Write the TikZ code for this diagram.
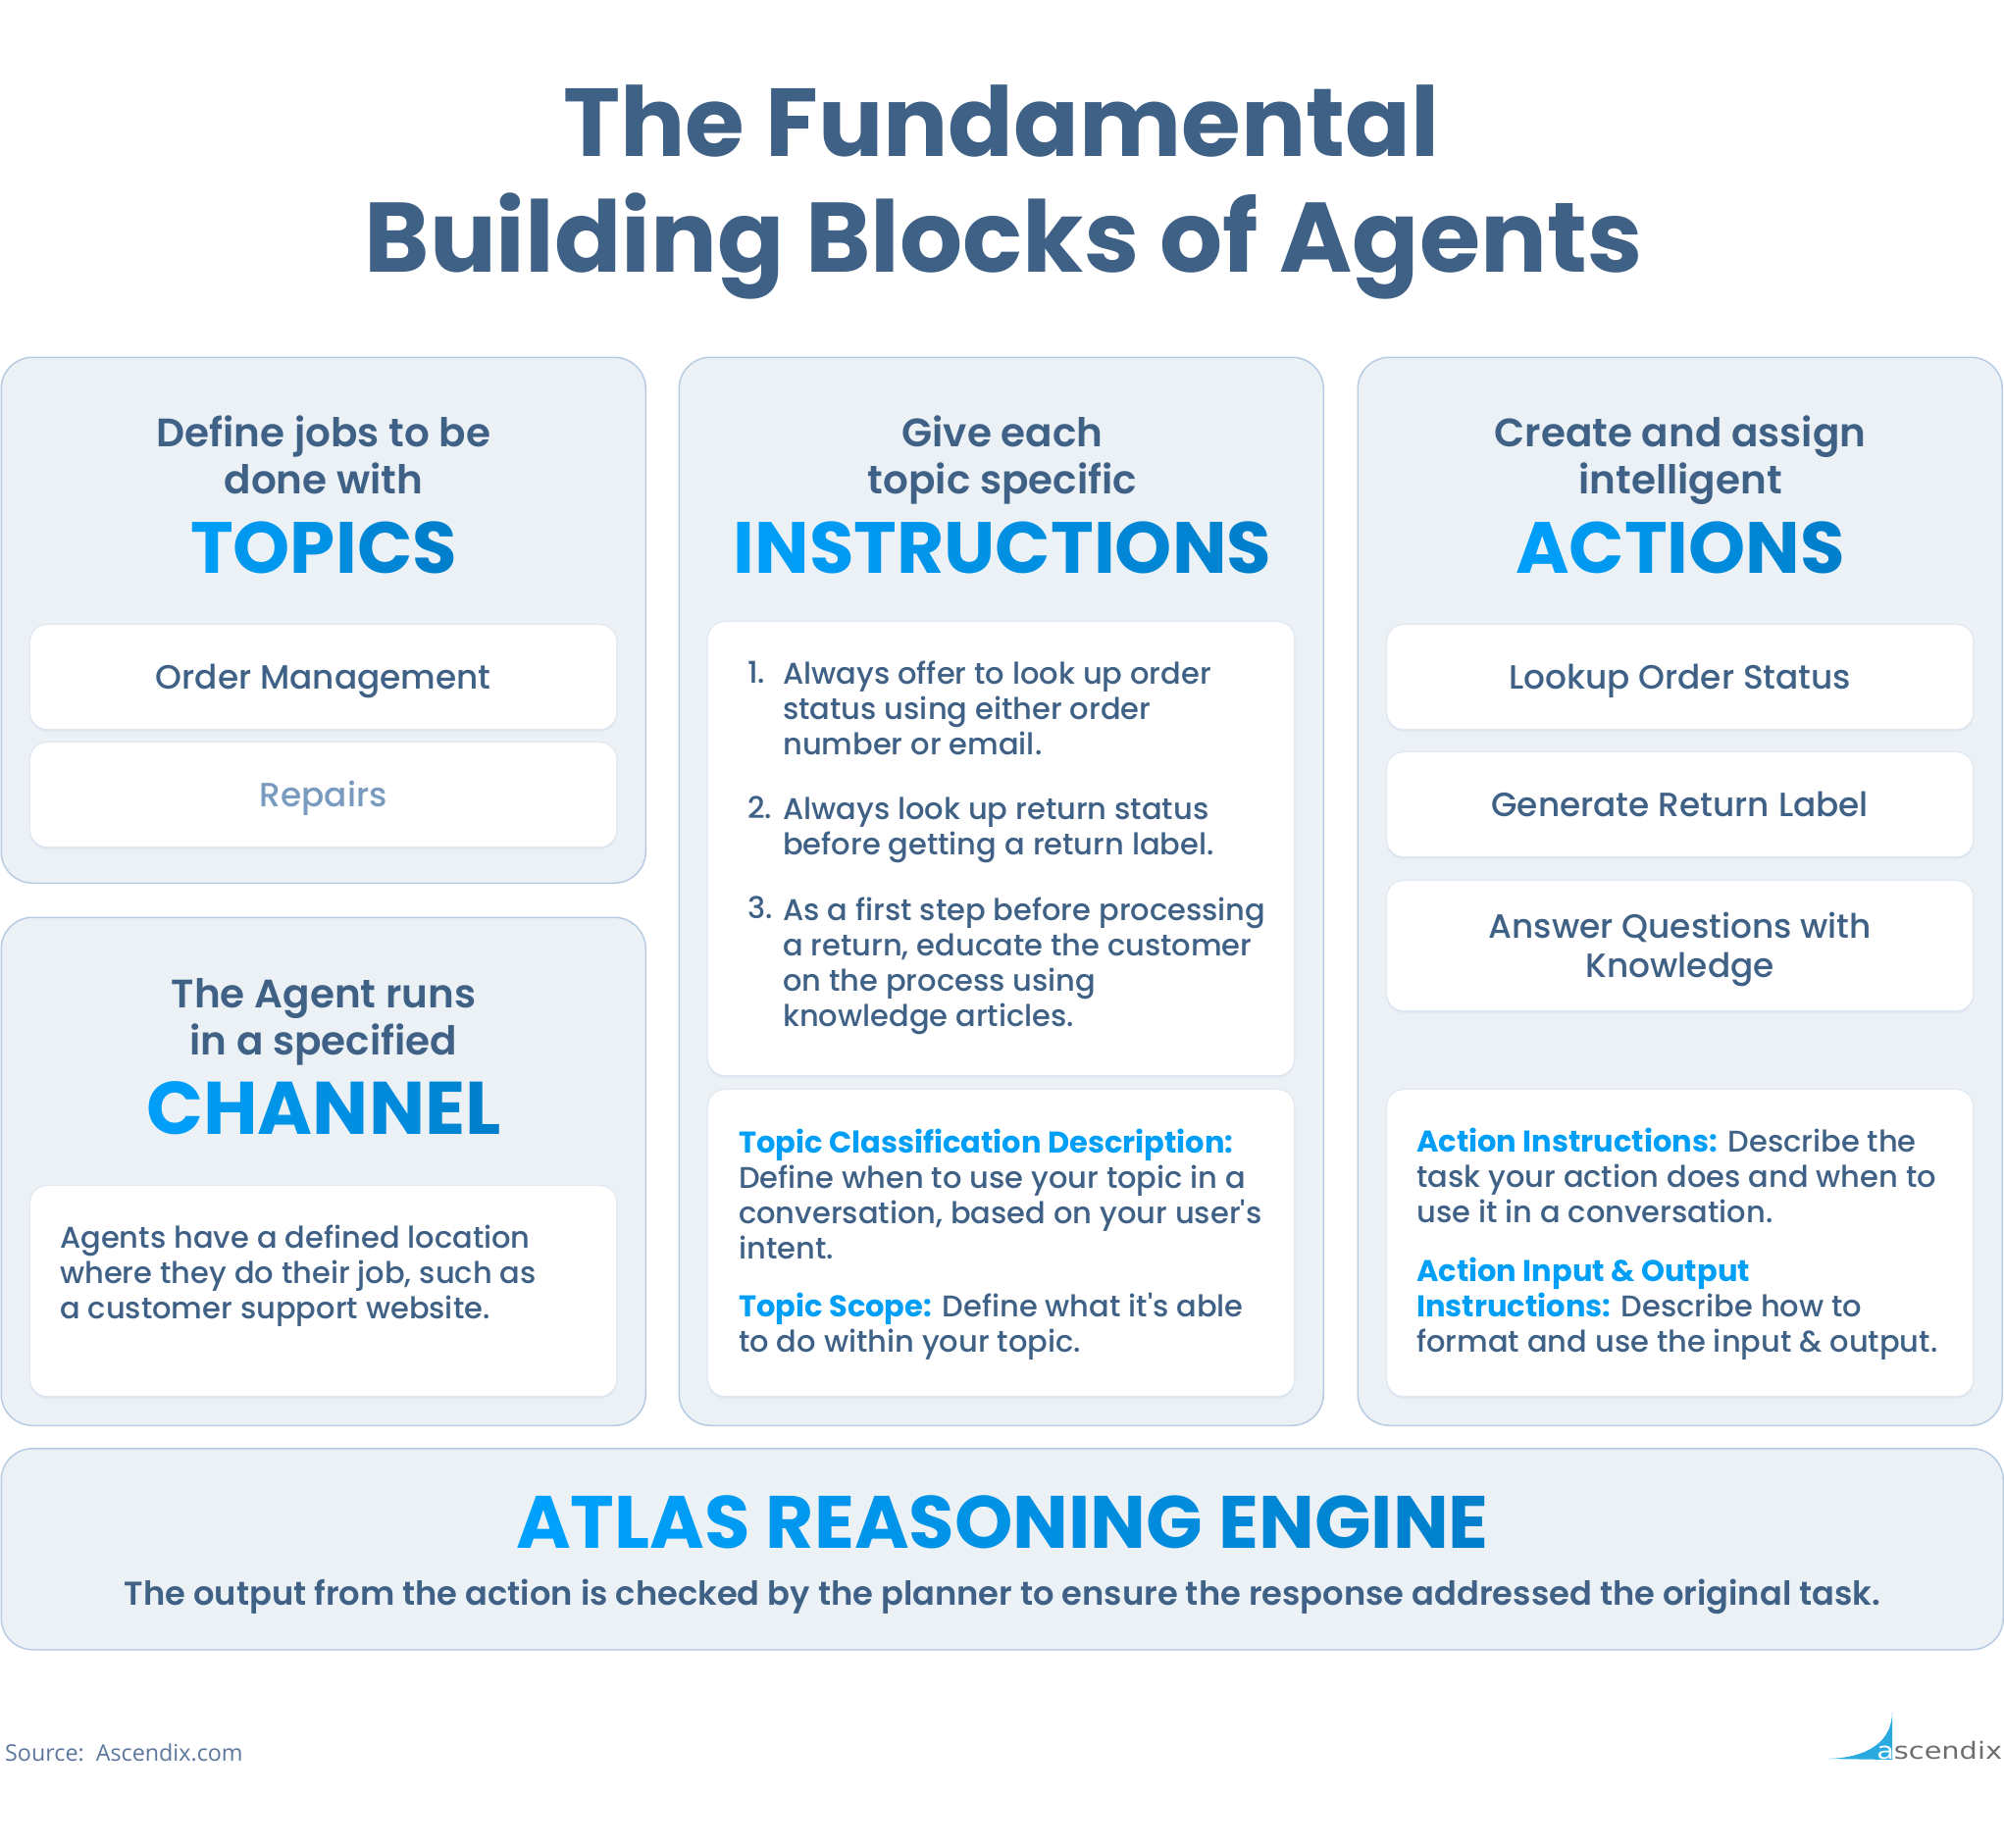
\documentclass[tikz,border=0pt]{standalone}
\usepackage{fontspec}
\usetikzlibrary{shadows}
\setmainfont{Poppins Medium}[BoldFont=Poppins Bold, Ligatures=TeXOff]
\newfontfamily\headfont{Poppins SemiBold}
\newfontfamily\titlefont{Poppins Bold}
\newfontfamily\sourcefont{Open Sans}
\newfontfamily\logofont{DejaVu Sans}
\definecolor{navy}{HTML}{3F6186}
\definecolor{panelfill}{HTML}{ECF1F6}
\definecolor{panelline}{HTML}{B7CBE2}
\definecolor{cardshade}{HTML}{C5D3E4}
\definecolor{paleblue}{HTML}{7A9BC0}
\definecolor{linkblue}{HTML}{009FF7}
\definecolor{gradleft}{HTML}{00A3FF}
\definecolor{gradright}{HTML}{0080CC}
\definecolor{sourcegray}{HTML}{5C769B}
\definecolor{logoblue}{HTML}{29ABE2}
\definecolor{logogray}{HTML}{6D6E71}
\newcommand{\gradspace}{\ }
\ExplSyntaxOn
\NewDocumentCommand{\gradword}{m}{
  \tl_set:Nn \l_tmpa_tl {#1}
  \tl_replace_all:Nnn \l_tmpa_tl {~}{\gradspace}
  \int_zero:N \l_tmpa_int
  \int_set:Nn \l_tmpb_int {\tl_count:N \l_tmpa_tl}
  \tl_map_inline:Nn \l_tmpa_tl {
    \int_incr:N \l_tmpa_int
    \color{gradright!\int_eval:n {100*\l_tmpa_int/\l_tmpb_int}!gradleft}##1
  }
}
\ExplSyntaxOff
\tikzset{
  panel/.style={draw=panelline, line width=1.5pt, fill=panelfill, rounded corners=32pt, anchor=north west, inner sep=0pt},
  card/.style={fill=white, rounded corners=17pt, anchor=north west, inner sep=0pt, minimum width=597pt,
    preaction={draw=cardshade, line width=3pt, opacity=.25},
    drop shadow={opacity=.22, shadow xshift=0pt, shadow yshift=-3pt, fill=cardshade}},
  cardtext/.style={text=navy, font=\fontsize{34.3}{40}\selectfont, align=center, yshift=-4pt, inner sep=0pt},
  cardline/.style={cardtext, text height=26pt, text depth=9pt, yshift=0pt},
  title/.style={text=navy, font=\titlefont\fontsize{100.8}{120}\selectfont, anchor=base},
  subhead/.style={text=navy, font=\headfont\fontsize{40.5}{48}\selectfont, anchor=base},
  bigword/.style={font=\titlefont\fontsize{74}{80}\selectfont, anchor=base},
  body/.style={text=navy, font=\fontsize{30.5}{36}\selectfont, anchor=base west, inner sep=0pt, align=left},
}
\begin{document}
\begin{tikzpicture}[x=1pt, y=-1pt]
  \path[use as bounding box] (0,0) rectangle (2043,1884);

  % Title
  \node[title, font=\titlefont\fontsize{98.4}{120}\selectfont] (titleone) at (1021,159) {The Fundamental};
  \node[title] (titletwo) at (1023,277) {Building Blocks of Agents};

  % Panels
  \node[panel, minimum width=657pt, minimum height=536pt] (topicspanel) at (0.5,363.5) {};
  \node[panel, minimum width=657pt, minimum height=518pt] (channelpanel) at (0.5,934.5) {};
  \node[panel, minimum width=657pt, minimum height=1089pt] (instrpanel) at (691.5,363.5) {};
  \node[panel, minimum width=657pt, minimum height=1089pt] (actionspanel) at (1383.5,363.5) {};
  \node[panel, minimum width=2041pt, minimum height=205pt] (enginepanel) at (0.5,1476) {};

  % Topics
  \node[subhead] (topicsone) at (330,455) {Define jobs to be};
  \node[subhead] (topicstwo) at (330,503) {done with};
  \node[bigword] (topicsword) at (330,584) {\gradword{TOPICS}};
  \node[card, minimum height=106pt] (ordercard) at (31,637) {};
  \node[cardline] (ordertext) at (ordercard) {Order Management};
  \node[card, minimum height=106pt] (repairscard) at (31,757) {};
  \node[cardline, text=paleblue] (repairstext) at (repairscard) {Repairs};

  % Channel
  \node[subhead] (channelone) at (330,1027) {The Agent runs};
  \node[subhead] (channeltwo) at (330,1075) {in a specified};
  \node[bigword, font=\titlefont\fontsize{76}{80}\selectfont] (channelword) at (330,1156) {\gradword{CHANNEL}};
  \node[card, minimum height=214pt] (channelcard) at (31,1209) {};
  \node[body] (channelline) at (61,1344.5) {Agents have a defined location\\where they do their job, such as\\a customer support website.};

  % Instructions
  \node[subhead] (instrone) at (1022,455) {Give each};
  \node[subhead] (instrtwo) at (1022,503) {topic specific};
  \node[bigword] (instrword) at (1022,584) {\gradword{INSTRUCTIONS}};
  \node[card, minimum height=462pt] (listcard) at (722,634) {};
  \node[card, minimum height=312pt] (scopecard) at (722,1111) {};
  \node[body] (numone) at (762,696.5) {1.};
  \node[body] (itemone) at (798,769.5) {Always offer to look up order\\status using either order\\number or email.};
  \node[body] (numtwo) at (762,834.5) {2.};
  \node[body] (itemtwo) at (798,871.5) {Always look up return status\\before getting a return label.};
  \node[body] (numthree) at (762,936) {3.};
  \node[body] (itemthree) at (798,1046) {As a first step before processing\\a return, educate the customer\\on the process using\\knowledge articles.};
  \node[body] (classline) at (753,1283.5) {\textcolor{linkblue}{\textbf{Topic Classification Description:}}\\Define when to use your topic in a\\conversation, based on your user's\\intent.};
  \node[body] (scopeline) at (753,1378.5) {\textcolor{linkblue}{\textbf{Topic Scope:}} Define what it's able\\to do within your topic.};

  % Actions
  \node[subhead] (actionsone) at (1713,455) {Create and assign};
  \node[subhead] (actionstwo) at (1713,503) {intelligent};
  \node[bigword] (actionsword) at (1713,584) {\gradword{ACTIONS}};
  \node[card, minimum height=106pt] (lookupcard) at (1414,637) {};
  \node[cardline] (lookuptext) at (lookupcard) {Lookup Order Status};
  \node[card, minimum height=106pt] (returncard) at (1414,767) {};
  \node[cardline] (returntext) at (returncard) {Generate Return Label};
  \node[card, minimum height=132pt] (answercard) at (1414,898) {};
  \node[cardtext] (answertext) at (answercard) {Answer Questions with\\Knowledge};
  \node[card, minimum height=312pt] (notescard) at (1414,1111) {};
  \node[body] (actionline) at (1444,1246.5) {\textcolor{linkblue}{\textbf{Action Instructions:}} Describe the\\task your action does and when to\\use it in a conversation.};
  \node[body] (inputline) at (1444,1378.5) {\textcolor{linkblue}{\textbf{Action Input \& Output}}\\\textcolor{linkblue}{\textbf{Instructions:}} Describe how to\\format and use the input \& output.};

  % Engine
  \node[bigword, font=\titlefont\fontsize{75.6}{80}\selectfont] (engineword) at (1022,1578) {\gradword{ATLAS REASONING ENGINE}};
  \node[subhead, font=\headfont\fontsize{33.7}{42}\selectfont] (engineline) at (1022,1636) {The output from the action is checked by the planner to ensure the response addressed the original task.};

  % Source and logo
  \node[anchor=base west, inner sep=0pt, text=sourcegray, font=\sourcefont\fontsize{23.3}{30}\selectfont] (source) at (5,1795) {Source:\ \ Ascendix.com};
  \fill[logoblue] (1863,1793) .. controls (1905,1792) and (1929,1775) .. (1929,1745) -- (1929,1794) -- cycle;
  \node[anchor=base west, inner sep=0pt, xscale=1.2, font=\logofont\fontsize{24}{28}\selectfont] (logoword) at (1913,1793) {\textcolor{white}{a}\textcolor{logogray}{scendix}};
\end{tikzpicture}
\end{document}
